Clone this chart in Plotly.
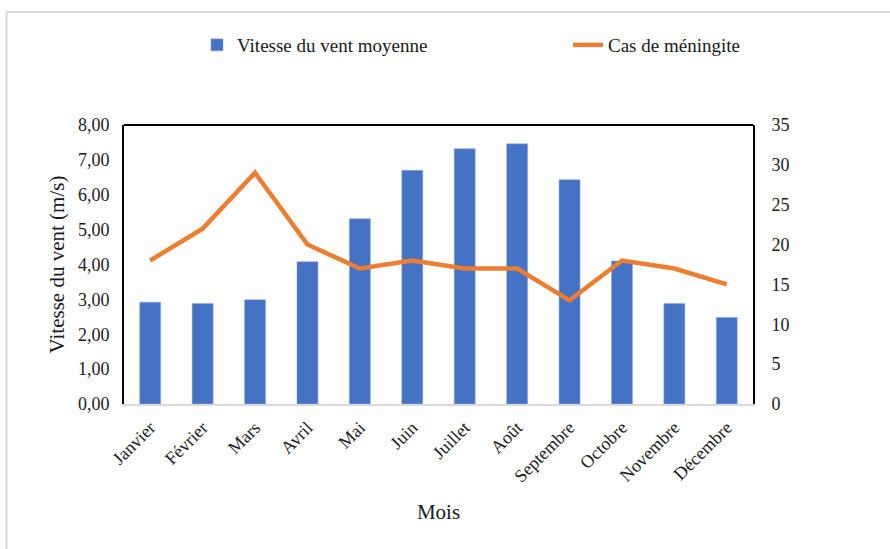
import plotly.graph_objects as go

mois = ["Janvier", "Février", "Mars", "Avril", "Mai", "Juin", "Juillet",
        "Août", "Septembre", "Octobre", "Novembre", "Décembre"]
vitesse_vent = [2.92, 2.88, 2.99, 4.08, 5.31, 6.70, 7.32, 7.46, 6.43, 4.10, 2.88, 2.48]
cas_meningite = [18, 22, 29, 20, 17, 18, 17, 17, 13, 18, 17, 15]

font_family = "Liberation Serif, Times New Roman, serif"

fig = go.Figure()
fig.add_trace(go.Bar(
    x=mois, y=vitesse_vent, name="Vitesse du vent moyenne", legend="legend",
    marker=dict(color="#4472C4", line=dict(color="#8FAADC", width=0.6)),
    width=0.4,
))
fig.add_trace(go.Scatter(
    x=mois, y=cas_meningite, name="Cas de méningite", yaxis="y2",
    legend="legend2", mode="lines", line=dict(color="#ED7D31", width=4.5),
))

W, H = 890, 549
L, R, T, B = 124, 137, 125, 145
pw, ph = W - L - R, H - T - B

def px(x):
    return (x - L) / pw

def py(y):
    return (H - B - y) / ph

legend_style = dict(
    orientation="h", yanchor="middle", xanchor="left", y=py(45),
    font=dict(size=19, color="#1a1a1a"), bgcolor="rgba(0,0,0,0)",
)

fig.update_layout(
    width=W, height=H,
    margin=dict(l=L, r=R, t=T, b=B),
    paper_bgcolor="white", plot_bgcolor="white",
    font=dict(family=font_family, color="#1a1a1a", size=18),
    separators=", ",
    showlegend=True,
    legend=dict(x=px(197), **legend_style),
    legend2=dict(x=px(568), **legend_style),
    xaxis=dict(
        title=dict(text="Mois", font=dict(size=21), standoff=19),
        tickangle=-45, showline=True, linecolor="#d9d9d9", linewidth=2,
        ticks="", showgrid=False, tickfont=dict(size=18), ticklabelstandoff=4,
    ),
    yaxis=dict(
        title=dict(text="Vitesse du vent (m/s)", font=dict(size=21), standoff=8),
        range=[0, 8], dtick=1, tickformat=".2f",
        showline=True, linecolor="black", linewidth=2, ticks="",
        showgrid=False, zeroline=False, tickfont=dict(size=18),
        ticklabelstandoff=9,
    ),
    yaxis2=dict(
        overlaying="y", side="right", range=[0, 35], dtick=5,
        showline=True, linecolor="black", linewidth=2, ticks="",
        showgrid=False, zeroline=False, tickfont=dict(size=18),
        ticklabelstandoff=13,
    ),
    shapes=[
        # top edge of the plot area
        dict(type="line", xref="paper", yref="paper", x0=0, x1=1, y0=1, y1=1,
             line=dict(color="black", width=2)),
        # outer chart frame (top and left edges)
        dict(type="line", xref="paper", yref="paper", x0=px(6.5), x1=px(892),
             y0=py(12), y1=py(12), line=dict(color="#d9d9d9", width=2)),
        dict(type="line", xref="paper", yref="paper", x0=px(6.5), x1=px(6.5),
             y0=py(12), y1=py(552), line=dict(color="#d9d9d9", width=2)),
    ],
)

fig.write_html("out.html")
